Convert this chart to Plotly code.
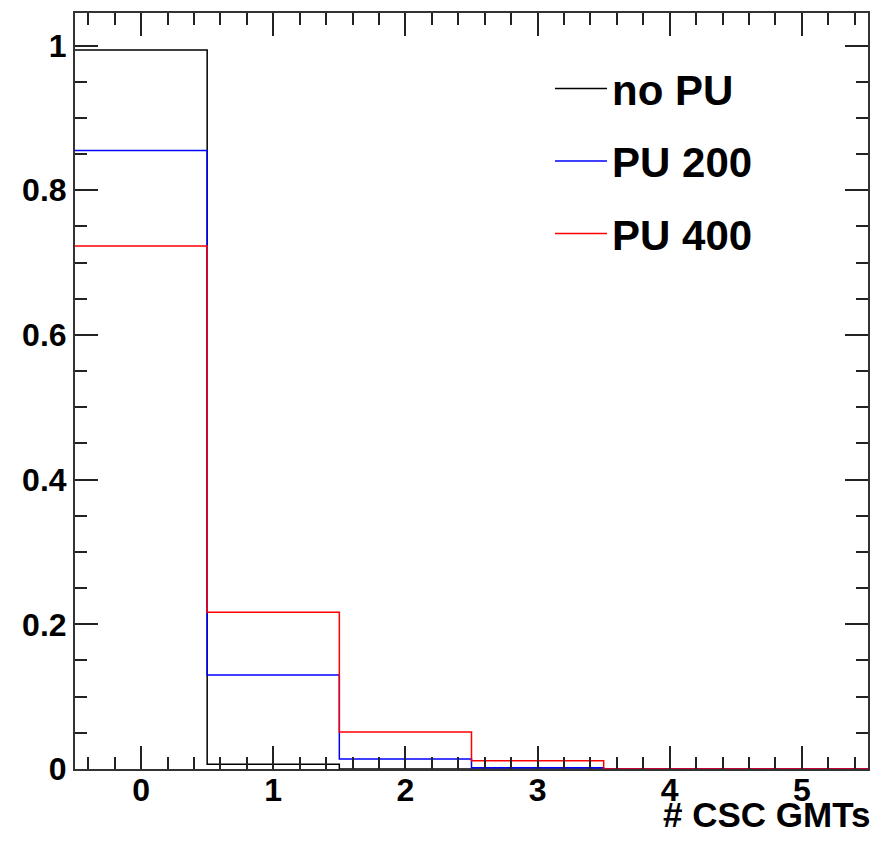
import plotly.graph_objects as go

bin_edges = [-0.5, 0.5, 1.5, 2.5, 3.5, 4.5, 5.5]
no_pu = [0.994, 0.0065, 0.0, 0.0, 0.0, 0.0]
pu200 = [0.855, 0.130, 0.0138, 0.0018, 0.0, 0.0]
pu400 = [0.723, 0.2166, 0.051, 0.0115, 0.0, 0.0]
names = ["no PU", "PU 200", "PU 400"]
colors = ["black", "#0000ff", "#ff0000"]

FONT = "Liberation Sans"
fig = go.Figure()
for i, (name, vals, col) in enumerate(zip(names, [no_pu, pu200, pu400], colors)):
    fig.add_trace(go.Scatter(
        x=bin_edges, y=vals + [vals[-1]], mode="lines", line_shape="hv",
        line=dict(color=col, width=1.5), name=name, legendgroup=f"g{i}",
    ))

axis_common = dict(
    showline=True, linecolor="#333", linewidth=2, mirror="ticks",
    ticks="inside", ticklen=23, tickwidth=1.5, tickcolor="#222",
    showgrid=False, zeroline=False,
    tickfont=dict(family=FONT, size=32, color="black", weight="bold"),
)
fig.update_xaxes(range=[-0.5, 5.5], dtick=1, tick0=0, ticklabelstandoff=-8,
                 minor=dict(dtick=0.2, tick0=0, ticks="inside", ticklen=12, tickwidth=1.5, tickcolor="#222"),
                 **axis_common)
fig.update_yaxes(range=[0, 1.045], dtick=0.2, tick0=0,
                 minor=dict(dtick=0.05, tick0=0, ticks="inside", ticklen=12, tickwidth=1.5, tickcolor="#222"),
                 **axis_common)

fig.add_annotation(text="# CSC GMTs", xref="paper", yref="paper", x=1.0, y=0, xanchor="right",
                   yanchor="top", yshift=-24, xshift=4, showarrow=False,
                   font=dict(family=FONT, size=35, color="black", weight="bold"))

fig.update_layout(
    width=874, height=841,
    margin=dict(l=67, r=14, t=3, b=80),
    paper_bgcolor="white", plot_bgcolor="white",
    legend=dict(x=0.599, y=0.945, xanchor="left", yanchor="top", bgcolor="rgba(0,0,0,0)",
                font=dict(family=FONT, size=42, color="black", weight="bold"),
                tracegroupgap=15, itemwidth=52, traceorder="grouped"),
)
fig.write_html("out.html")
